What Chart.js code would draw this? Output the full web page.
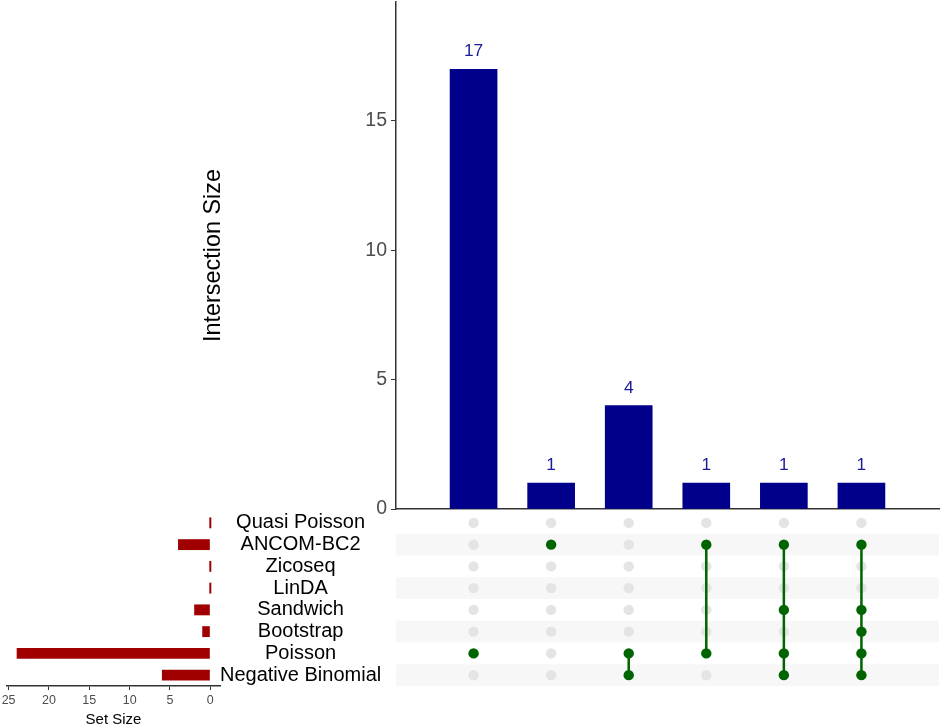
<!DOCTYPE html>
<html>
<head>
<meta charset="utf-8">
<script src="https://cdn.jsdelivr.net/npm/chart.js@4"></script>
<style>
  body { margin: 0; background: #fff; }
  #wrap { position: relative; width: 941px; height: 727px; }
  canvas { position: absolute; left: 0; top: 0; }
</style>
</head>
<body>
<div id="wrap">
  <canvas id="sizeChart" width="941" height="727"></canvas>
  <canvas id="matrixChart" width="941" height="727"></canvas>
  <canvas id="barChart" width="941" height="727"></canvas>
</div>
<script>
// sets, top to bottom in the matrix
var setNames = ['Quasi Poisson', 'ANCOM-BC2', 'Zicoseq', 'LinDA', 'Sandwich', 'Bootstrap', 'Poisson', 'Negative Binomial'];
var setSizes = [0, 4, 0, 0, 2, 1, 24, 6];

// intersections, left to right
var intersectionSizes = [17, 1, 4, 1, 1, 1];
var intersectionMembers = [
    ['Poisson'],
    ['ANCOM-BC2'],
    ['Poisson', 'Negative Binomial'],
    ['ANCOM-BC2', 'Poisson'],
    ['ANCOM-BC2', 'Sandwich', 'Poisson', 'Negative Binomial'],
    ['ANCOM-BC2', 'Sandwich', 'Bootstrap', 'Poisson', 'Negative Binomial']
];

var intersectionTicks = [0, 5, 10, 15];
var setSizeTicks = [0, 5, 10, 15, 20, 25];

Chart.defaults.font.family = "'Liberation Sans', Arial, sans-serif";
Chart.defaults.animation = false;
Chart.defaults.plugins.legend.display = false;
Chart.defaults.plugins.tooltip.enabled = false;

var barBlue = '#00008b';
var dotGreen = '#006400';
var setRed = '#a00000';
var axisGrey = '#333333';
var tickGrey = '#4d4d4d';

function fixedTicks(values) {
    return function (scale) {
        scale.ticks = values.map(function (v) { return { value: v }; });
    };
}

function noEdgePadding(scale) {
    scale.paddingTop = 0;
    scale.paddingBottom = 0;
    scale.paddingLeft = 0;
    scale.paddingRight = 0;
}

// intersection size bars
var barLabels = {
    id: 'barLabels',
    afterDatasetsDraw: function (chart) {
        var ctx = chart.ctx;
        var meta = chart.getDatasetMeta(0);
        ctx.save();
        ctx.fillStyle = '#1a1a9c';
        ctx.font = "17.4px 'Liberation Sans', Arial, sans-serif";
        ctx.textAlign = 'center';
        ctx.textBaseline = 'alphabetic';
        meta.data.forEach(function (bar, i) {
            ctx.fillText(String(intersectionSizes[i]), bar.x, bar.y - 13);
        });
        ctx.restore();
    }
};

new Chart(document.getElementById('barChart'), {
    type: 'bar',
    data: {
        datasets: [{
            data: intersectionSizes.map(function (v, i) { return { x: i + 1, y: v }; }),
            backgroundColor: barBlue,
            barThickness: 47
        }]
    },
    options: {
        responsive: false,
        layout: { autoPadding: false, padding: { left: 196, top: 2, right: 2, bottom: 218 } },
        scales: {
            x: {
                type: 'linear',
                offset: false,
                min: 0,
                max: 7,
                ticks: { display: false },
                grid: { display: false, drawTicks: false },
                border: { display: true, color: axisGrey, width: 1.5 },
                afterFit: function (s) { s.height = 0; noEdgePadding(s); }
            },
            y: {
                min: 0,
                max: 19.6,
                afterBuildTicks: fixedTicks(intersectionTicks),
                ticks: { color: tickGrey, font: { size: 19.5 }, padding: 4 },
                grid: { display: true, drawOnChartArea: false, tickLength: 5, color: axisGrey },
                border: { display: true, color: axisGrey, width: 1.5 },
                title: { display: true, text: 'Intersection Size', color: '#000', font: { size: 23.4 } },
                afterFit: function (s) { s.width = 200; noEdgePadding(s); }
            }
        }
    },
    plugins: [barLabels]
});

// membership matrix
var rowBands = {
    id: 'rowBands',
    beforeDatasetsDraw: function (chart) {
        var ctx = chart.ctx;
        var area = chart.chartArea;
        var y = chart.scales.y;
        ctx.save();
        ctx.fillStyle = '#f7f7f7';
        setNames.forEach(function (name, r) {
            if (r % 2 === 1) {
                var top = y.getPixelForValue(r - 0.5);
                var bottom = y.getPixelForValue(r + 0.5);
                ctx.fillRect(area.left, top, area.right - area.left, bottom - top);
            }
        });
        ctx.restore();
    }
};

var greyDots = [];
var greenDots = [];
var lineSets = [];
intersectionMembers.forEach(function (members, c) {
    var rows = members.map(function (m) { return setNames.indexOf(m); });
    setNames.forEach(function (name, r) {
        if (rows.indexOf(r) >= 0) greenDots.push({ x: c + 1, y: r });
        else greyDots.push({ x: c + 1, y: r });
    });
    if (rows.length > 1) {
        lineSets.push({
            type: 'line',
            data: [{ x: c + 1, y: Math.min.apply(null, rows) }, { x: c + 1, y: Math.max.apply(null, rows) }],
            borderColor: dotGreen,
            borderWidth: 2.5,
            pointRadius: 0,
            order: 1
        });
    }
});

new Chart(document.getElementById('matrixChart'), {
    type: 'scatter',
    data: {
        datasets: [
            { data: greenDots, backgroundColor: dotGreen, borderWidth: 0, pointRadius: 5.2, order: 0 },
            { data: greyDots, backgroundColor: '#e4e4e4', borderWidth: 0, pointRadius: 5.2, order: 2 }
        ].concat(lineSets)
    },
    options: {
        responsive: false,
        layout: { autoPadding: false, padding: { left: 396, top: 512, right: 2, bottom: 41 } },
        scales: {
            x: { type: 'linear', min: 0, max: 7, display: false },
            y: { type: 'linear', min: -0.5, max: 7.5, reverse: true, display: false }
        }
    },
    plugins: [rowBands]
});

// set size bars
new Chart(document.getElementById('sizeChart'), {
    type: 'bar',
    data: {
        labels: setNames,
        datasets: [{
            data: setSizes,
            backgroundColor: setRed,
            categoryPercentage: 1,
            barPercentage: 0.5,
            minBarLength: 2
        }]
    },
    options: {
        responsive: false,
        indexAxis: 'y',
        layout: { autoPadding: false, padding: { left: 7, top: 512, right: 545, bottom: 0 } },
        scales: {
            x: {
                type: 'linear',
                reverse: true,
                min: -1.2,
                max: 25.2,
                afterBuildTicks: fixedTicks(setSizeTicks),
                ticks: { color: tickGrey, font: { size: 12.5 }, padding: 3 },
                grid: { display: true, drawOnChartArea: false, tickLength: 4, color: axisGrey },
                border: { display: true, color: axisGrey, width: 1.5 },
                title: { display: true, text: 'Set Size', color: '#000', font: { size: 15, lineHeight: 1 }, padding: { top: 0, bottom: 0 } },
                afterFit: function (s) { s.height = 41; noEdgePadding(s); }
            },
            y: {
                position: 'right',
                ticks: { color: '#000', font: { size: 20 }, padding: 0, crossAlign: 'center', autoSkip: false },
                grid: { display: false, drawTicks: false },
                border: { display: false },
                afterFit: function (s) { s.width = 176; noEdgePadding(s); }
            }
        }
    }
});
</script>
</body>
</html>
